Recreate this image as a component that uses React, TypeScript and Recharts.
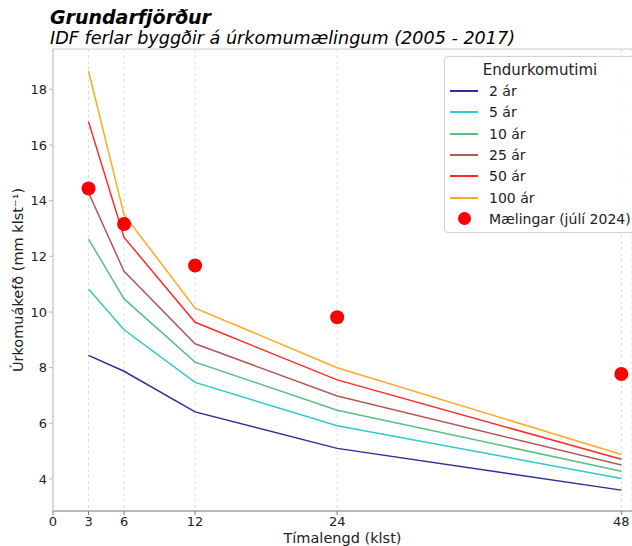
import { ComposedChart, Line, Scatter, XAxis, YAxis, CartesianGrid, ReferenceLine } from "recharts";

const hours = [3, 6, 12, 24, 48];
const xTicks = [0, 3, 6, 12, 24, 48];
const yTicks = [4, 6, 8, 10, 12, 14, 16, 18];

const rp2 = [8.44, 7.87, 6.41, 5.1, 3.6];
const rp5 = [10.83, 9.36, 7.47, 5.91, 4.02];
const rp10 = [12.62, 10.47, 8.2, 6.47, 4.28];
const rp25 = [14.29, 11.46, 8.86, 6.98, 4.5];
const rp50 = [16.84, 12.68, 9.63, 7.56, 4.71];
const rp100 = [18.66, 13.5, 10.14, 8.0, 4.88];
const measured = [14.44, 13.16, 11.67, 9.81, 7.77];

const series = [
  { key: "rp2", name: "2 ár", values: rp2, color: "#2e2e96" },
  { key: "rp5", name: "5 ár", values: rp5, color: "#2cc9cf" },
  { key: "rp10", name: "10 ár", values: rp10, color: "#5cbd85" },
  { key: "rp25", name: "25 ár", values: rp25, color: "#b45858" },
  { key: "rp50", name: "50 ár", values: rp50, color: "#ff2a2a" },
  { key: "rp100", name: "100 ár", values: rp100, color: "#ffaa22" },
];

const data = hours.map((t, i) => {
  const row: Record<string, number> = { t, obs: measured[i] };
  series.forEach((s) => (row[s.key] = s.values[i]));
  return row;
});

const font = "'DejaVu Sans', sans-serif";

const Dot = (props: any) => <circle cx={props.cx} cy={props.cy} r={7} fill="#ff0000" />;

export default function App() {
  return (
    <div style={{ position: "absolute", left: 0, top: 0, width: 632, height: 546, fontFamily: font, overflow: "hidden", background: "#fff" }}>
      <div style={{ position: "absolute", left: 50, top: 6, fontSize: 19, fontWeight: "bold", fontStyle: "italic", lineHeight: "22px", color: "#000" }}>
        Grundarfjörður
      </div>
      <div style={{ position: "absolute", left: 50, top: 28, fontSize: 17.6, fontStyle: "italic", lineHeight: "20px", color: "#000" }}>
        IDF ferlar byggðir á úrkomumælingum (2005 - 2017)
      </div>
      <ComposedChart width={632} height={546} data={data} margin={{ top: 49, right: 0, bottom: 0, left: 0 }} style={{ fontFamily: font }}>
        <CartesianGrid horizontal={false} strokeDasharray="3 3" stroke="#dddddd" />
        <ReferenceLine y={19.45} stroke="#cccccc" strokeWidth={1} />
        <XAxis
          dataKey="t"
          type="number"
          domain={[0, 48.9]}
          ticks={xTicks}
          height={35}
          tickSize={4}
          tick={{ fontSize: 13, fill: "#222" }}
          stroke="#777"
          allowDataOverflow
          label={{ value: "Tímalengd (klst)", position: "insideBottom", offset: 3, fontSize: 14.5, fill: "#222" }}
        />
        <YAxis
          type="number"
          domain={[2.85, 19.45]}
          ticks={yTicks}
          width={53}
          tickSize={4}
          tick={{ fontSize: 13, fill: "#222" }}
          stroke="#bbbbbb"
          allowDataOverflow
          label={{ value: "Úrkomuákefð (mm klst⁻¹)", angle: -90, position: "insideLeft", offset: 18, fontSize: 14.5, fill: "#222", style: { textAnchor: "middle" } }}
        />
        {series.map((s) => (
          <Line key={s.key} type="linear" dataKey={s.key} stroke={s.color} strokeWidth={1.5} dot={false} isAnimationActive={false} />
        ))}
        <Scatter dataKey="obs" shape={Dot} isAnimationActive={false} />
      </ComposedChart>
      <div
        style={{
          position: "absolute",
          left: 444,
          top: 56,
          width: 200,
          height: 177,
          border: "1px solid #d0d0d0",
          borderRadius: 4,
          background: "rgba(255,255,255,0.85)",
          boxSizing: "border-box",
          fontSize: 14,
          color: "#222",
        }}
      >
        <div style={{ position: "absolute", left: 0, width: 190, top: 4, textAlign: "center", fontSize: 15 }}>Endurkomutimi</div>
        {series.map((s, i) => (
          <div key={s.key} style={{ position: "absolute", left: 5, top: 24 + i * 21.3, height: 20, display: "flex", alignItems: "center" }}>
            <div style={{ width: 28, height: 2, background: s.color }} />
            <span style={{ marginLeft: 11 }}>{s.name}</span>
          </div>
        ))}
        <div style={{ position: "absolute", left: 5, top: 24 + 6 * 21.3, height: 20, display: "flex", alignItems: "center" }}>
          <div style={{ width: 28, display: "flex", justifyContent: "center" }}>
            <div style={{ width: 13, height: 13, borderRadius: "50%", background: "#ff0000" }} />
          </div>
          <span style={{ marginLeft: 11 }}>Mælingar (júlí 2024)</span>
        </div>
      </div>
    </div>
  );
}
